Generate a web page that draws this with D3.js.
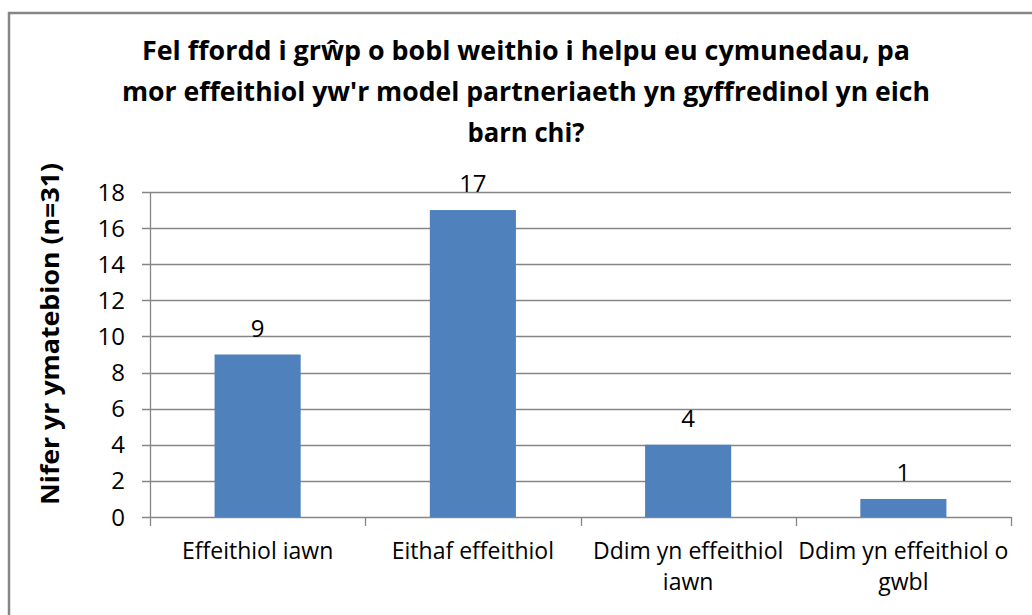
<!DOCTYPE html>
<html>
<head>
<meta charset="utf-8">
<script src="https://cdn.jsdelivr.net/npm/d3@7"></script>
<style>
  html, body { margin: 0; padding: 0; background: #fff; }
  svg { display: block; }
  text { font-family: "Open Sans", "Liberation Sans", sans-serif; fill: #000; }
</style>
</head>
<body>
<svg id="chart" width="1032" height="615"></svg>
<script>
const titleLines = [
  "Fel ffordd i grŵp o bobl weithio i helpu eu cymunedau,  pa",
  "mor effeithiol yw'r model  partneriaeth yn gyffredinol yn eich",
  "barn chi?"
];
const yAxisTitle = "Nifer yr ymatebion (n=31)";
const categories = [
  ["Effeithiol iawn"],
  ["Eithaf effeithiol"],
  ["Ddim yn effeithiol", "iawn"],
  ["Ddim yn effeithiol o", "gwbl"]
];
const values = [9, 17, 4, 1];
const yTicks = [0, 2, 4, 6, 8, 10, 12, 14, 16, 18];

const svg = d3.select("#chart");

// outer frame
svg.append("rect")
  .attr("x", 9).attr("y", 13)
  .attr("width", 1040).attr("height", 620)
  .attr("fill", "#fff")
  .attr("stroke", "#868686").attr("stroke-width", 2.5);

const plot = { left: 150, right: 1011, top: 192, bottom: 517 };

const x = d3.scaleBand()
  .domain(d3.range(categories.length))
  .range([plot.left, plot.right])
  .paddingInner(0.6).paddingOuter(0.3);

const xOuter = d3.scaleBand()
  .domain(d3.range(categories.length))
  .range([plot.left, plot.right]);

const y = d3.scaleLinear().domain([0, 18]).range([plot.bottom, plot.top]);

// gridlines
svg.append("g").selectAll("line").data(yTicks).join("line")
  .attr("x1", plot.left - 8).attr("x2", plot.right)
  .attr("y1", d => Math.round(y(d)) + 0.5).attr("y2", d => Math.round(y(d)) + 0.5)
  .attr("stroke", "#868686").attr("stroke-width", 1.3);

// y axis line
svg.append("line")
  .attr("x1", plot.left + 0.5).attr("x2", plot.left + 0.5)
  .attr("y1", plot.top).attr("y2", plot.bottom)
  .attr("stroke", "#868686").attr("stroke-width", 1.3);

// x axis category ticks
const xTickPos = d3.range(categories.length + 1).map(i =>
  i < categories.length ? xOuter(i) : xOuter(categories.length - 1) + xOuter.bandwidth());
svg.append("g").selectAll("line").data(xTickPos).join("line")
  .attr("x1", d => Math.round(d) + 0.5).attr("x2", d => Math.round(d) + 0.5)
  .attr("y1", plot.bottom).attr("y2", plot.bottom + 9)
  .attr("stroke", "#868686").attr("stroke-width", 1.3);

// y tick labels
svg.append("g").selectAll("text").data(yTicks).join("text")
  .attr("x", 125).attr("y", d => y(d) + 8.5)
  .attr("text-anchor", "end")
  .attr("font-size", 24)
  .text(d => d);

// bars
svg.append("g").selectAll("rect").data(values).join("rect")
  .attr("x", (d, i) => x(i))
  .attr("width", x.bandwidth())
  .attr("y", d => y(d))
  .attr("height", d => y(0) - y(d))
  .attr("fill", "#4F81BD");

// value labels
svg.append("g").selectAll("text").data(values).join("text")
  .attr("x", (d, i) => x(i) + x.bandwidth() / 2)
  .attr("y", d => y(d) - 18)
  .attr("text-anchor", "middle")
  .attr("font-size", 24)
  .text(d => d);

// category labels
const cat = svg.append("g").selectAll("text").data(categories).join("text")
  .attr("text-anchor", "middle")
  .attr("font-size", 23);
cat.each(function(lines, i) {
  const t = d3.select(this);
  lines.forEach((ln, j) => {
    t.append("tspan")
      .attr("x", xOuter(i) + xOuter.bandwidth() / 2)
      .attr("y", 559 + j * 31)
      .text(ln);
  });
});

// title
const titleY = [60, 101, 142];
const titleW = [768, 808, 117];
svg.append("g").selectAll("text").data(titleLines).join("text")
  .attr("x", 526)
  .attr("y", (d, i) => titleY[i])
  .attr("text-anchor", "middle")
  .attr("font-size", 27)
  .attr("font-weight", "bold")
  .attr("textLength", (d, i) => titleW[i])
  .attr("lengthAdjust", "spacingAndGlyphs")
  .text(d => d);

// y axis title
svg.append("text")
  .attr("transform", "translate(59,334) rotate(-90)")
  .attr("text-anchor", "middle")
  .attr("font-size", 25)
  .attr("font-weight", "bold")
  .attr("textLength", 342)
  .attr("lengthAdjust", "spacingAndGlyphs")
  .text(yAxisTitle);
</script>
</body>
</html>
